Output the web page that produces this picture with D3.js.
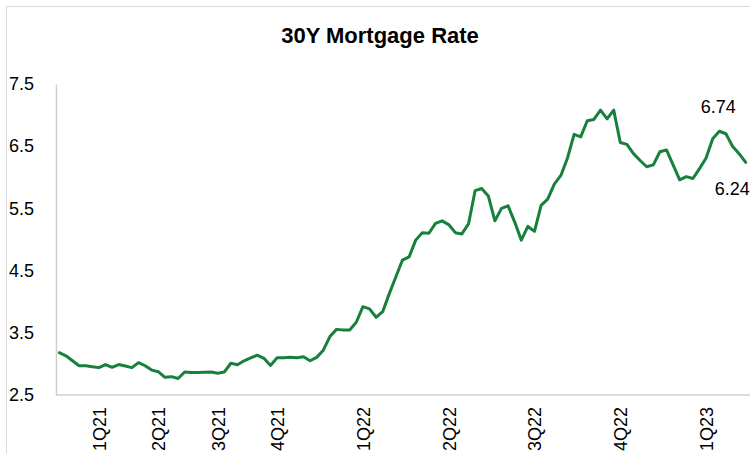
<!DOCTYPE html>
<html>
<head>
<meta charset="utf-8">
<script src="https://cdn.jsdelivr.net/npm/d3@7"></script>
<style>
  html, body { margin: 0; padding: 0; background: #fff; }
  svg { display: block; font-family: Arial, "Liberation Sans", sans-serif; }
</style>
</head>
<body>
<svg id="chart" width="750" height="454"></svg>
<script>
// Weekly 30-year mortgage rate, %
const rates = [
  3.18, 3.13, 3.05, 2.97, 2.97, 2.955, 2.94, 2.99, 2.945, 2.99,
  2.965, 2.94, 3.02, 2.97, 2.90, 2.875, 2.785, 2.795, 2.765, 2.87,
  2.86, 2.86, 2.865, 2.87, 2.85, 2.87, 3.01, 2.985, 3.05, 3.095,
  3.14, 3.09, 2.975, 3.10, 3.10, 3.105, 3.10, 3.115, 3.05, 3.105,
  3.22, 3.44, 3.555, 3.545, 3.545, 3.67, 3.92, 3.885, 3.75, 3.84,
  4.13, 4.40, 4.67, 4.72, 4.99, 5.11, 5.10, 5.26, 5.30, 5.24,
  5.11, 5.09, 5.25, 5.785, 5.82, 5.70, 5.30, 5.50, 5.54, 5.28,
  4.99, 5.21, 5.13, 5.55, 5.65, 5.89, 6.03, 6.31, 6.69, 6.65,
  6.91, 6.93, 7.08, 6.94, 7.08, 6.56, 6.53, 6.38, 6.27, 6.17,
  6.20, 6.41, 6.44, 6.20, 5.96, 6.01, 5.98, 6.14, 6.31, 6.62,
  6.74, 6.70, 6.50, 6.38, 6.24
];

// Quarter labels and the week they sit on
const quarterLabels = ["1Q21", "2Q21", "3Q21", "4Q21", "1Q22", "2Q22", "3Q22", "4Q22", "1Q23"];
const quarterIndex = [6, 15, 24, 33, 46, 59, 72, 85, 98];

const yTicks = [2.5, 3.5, 4.5, 5.5, 6.5, 7.5];

// Points that carry a value label: [index, position]
const labelled = [[100, "above"], [104, "below"]];

const svg = d3.select("#chart");
const plot = { left: 56, right: 749, top: 84, bottom: 395 };

// Chart frame
svg.append("rect")
  .attr("x", 6.5).attr("y", 6.5)
  .attr("width", 800).attr("height", 500)
  .attr("fill", "none").attr("stroke", "#d9d9d9").attr("stroke-width", 1);

const x = d3.scalePoint()
  .domain(d3.range(rates.length))
  .range([plot.left, plot.right])
  .padding(0.5);

const y = d3.scaleLinear()
  .domain([2.5, 7.5])
  .range([plot.bottom, plot.top]);

// Title
svg.append("text")
  .attr("x", 380).attr("y", 43)
  .attr("text-anchor", "middle")
  .attr("font-size", 22).attr("font-weight", "bold")
  .attr("fill", "#000")
  .text("30Y Mortgage Rate");

// Y axis
const yAxis = svg.append("g")
  .attr("transform", `translate(${plot.left},0)`)
  .call(d3.axisLeft(y).tickValues(yTicks).tickSize(0).tickPadding(22).tickFormat(d3.format(".1f")));
yAxis.select(".domain").attr("stroke", "#d0d0d0").attr("stroke-width", 1.5);
yAxis.selectAll("text").attr("font-size", 18).attr("fill", "#000")
  .attr("font-family", 'Arial, "Liberation Sans", sans-serif');

// X axis
const xAxis = svg.append("g")
  .attr("transform", `translate(0,${plot.bottom})`)
  .call(d3.axisBottom(x)
    .tickValues(quarterIndex)
    .tickSize(0)
    .tickFormat((d) => quarterLabels[quarterIndex.indexOf(d)]));
xAxis.select(".domain").attr("stroke", "#d0d0d0").attr("stroke-width", 1.5)
  .attr("d", `M${plot.left},0H${plot.right + 10}`);
xAxis.selectAll("text")
  .attr("font-size", 18).attr("fill", "#000")
  .attr("font-family", 'Arial, "Liberation Sans", sans-serif')
  .attr("text-anchor", "end")
  .attr("transform", "rotate(-90)")
  .attr("x", -12).attr("y", 0).attr("dy", "0.35em");

// Rate line
const line = d3.line()
  .x((d, i) => x(i))
  .y((d) => y(d));

svg.append("path")
  .datum(rates)
  .attr("d", line)
  .attr("fill", "none")
  .attr("stroke", "#17803d")
  .attr("stroke-width", 3)
  .attr("stroke-linejoin", "round")
  .attr("stroke-linecap", "round");

// Value labels
labelled.forEach(([i, pos]) => {
  const t = svg.append("text")
    .attr("font-size", 18).attr("fill", "#000")
    .text(rates[i].toFixed(2));
  if (pos === "above") {
    t.attr("x", x(i) - 1).attr("y", y(rates[i]) - 18).attr("text-anchor", "middle");
  } else {
    t.attr("x", x(i) + 4).attr("y", y(rates[i]) + 33).attr("text-anchor", "end");
  }
});
</script>
</body>
</html>
